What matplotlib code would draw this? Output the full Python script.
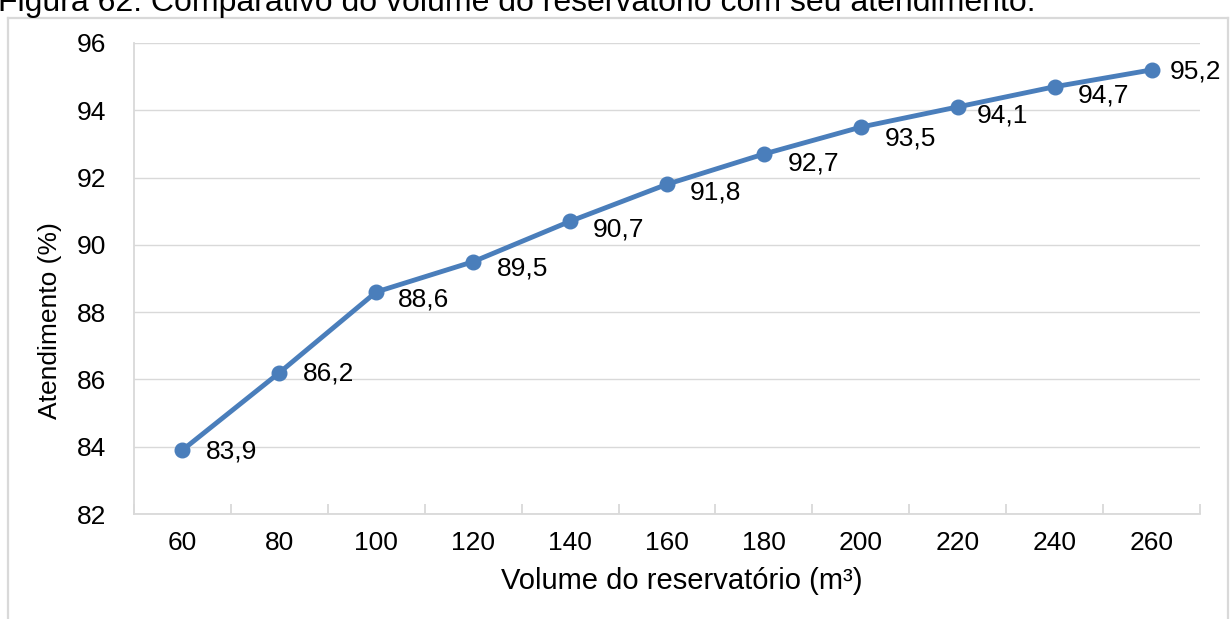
import matplotlib.pyplot as plt
from matplotlib.lines import Line2D
from matplotlib.ticker import FixedLocator

plt.rcParams['font.family'] = ['Liberation Sans', 'DejaVu Sans']

# volume do reservatório (m³) x atendimento (%)
volumes = [60, 80, 100, 120, 140, 160, 180, 200, 220, 240, 260]
atendimento = [83.9, 86.2, 88.6, 89.5, 90.7, 91.8, 92.7, 93.5, 94.1, 94.7, 95.2]

# deslocamento dos rótulos de dados (pixels, direita / abaixo)
desloc_x = [23, 24, 22, 24, 23, 23, 24, 24, 19, 23, 18]
desloc_y = [1, 1, 8, 7, 8, 8, 9, 11, 9, 9, 2]

azul = '#4A7EBB'
cinza = '#D9D9D9'

W, H = 1231, 619
fig = plt.figure(figsize=(W / 100, H / 100), dpi=100)
ax = fig.add_axes([134 / W, 1 - 514 / H, (1200 - 134) / W, (514 - 43) / H])

x = list(range(len(volumes)))
ax.plot(x, atendimento, color=azul, lw=3.5, marker='o', ms=10.5, zorder=3)

for i, v in enumerate(atendimento):
    ax.annotate(f'{v:.1f}'.replace('.', ','), (x[i], v),
                xytext=(desloc_x[i], -desloc_y[i]), textcoords='offset pixels',
                ha='left', va='center', fontsize=19, color='black')

ax.set_xlim(-0.5, len(volumes) - 0.5)
ax.set_ylim(82, 96)
ax.set_yticks(range(82, 97, 2))
ax.set_xticks(x)
ax.set_xticklabels([str(v) for v in volumes])
ax.xaxis.set_minor_locator(FixedLocator([i - 0.5 for i in range(len(volumes) + 1)]))

ax.tick_params(axis='x', which='major', length=0, pad=12, labelsize=19)
ax.tick_params(axis='x', which='minor', length=7, direction='in', color=cinza, width=1.3)
ax.tick_params(axis='y', length=0, pad=20, labelsize=19)

ax.grid(axis='y', color=cinza, lw=1.0)
ax.set_axisbelow(True)
for s in ['top', 'right']:
    ax.spines[s].set_visible(False)
for s in ['left', 'bottom']:
    ax.spines[s].set_color(cinza)
    ax.spines[s].set_linewidth(1.3)

ax.set_ylabel('Atendimento (%)', fontsize=19)
ax.yaxis.set_label_coords((62 - 134) / (1200 - 134), (514 - 321) / (514 - 43))

fig.text(682 / W, 30 / H, 'Volume do reservatório (m³)', fontsize=21,
         ha='center', va='baseline')

fig.text(-2 / W, 1 - 11 / H,
         'Figura 62: Comparativo do volume do reservatório com seu atendimento.',
         fontsize=23, ha='left', va='baseline')

# moldura do gráfico
fx0, fx1, fy0 = 8 / W, 1228 / W, 1 - 18 / H
for xs, ys in [([fx0, fx1], [fy0, fy0]), ([fx0, fx0], [fy0, -0.01]), ([fx1, fx1], [fy0, -0.01])]:
    fig.add_artist(Line2D(xs, ys, color=cinza, lw=1.6))

fig.savefig('out.png', dpi=100)
